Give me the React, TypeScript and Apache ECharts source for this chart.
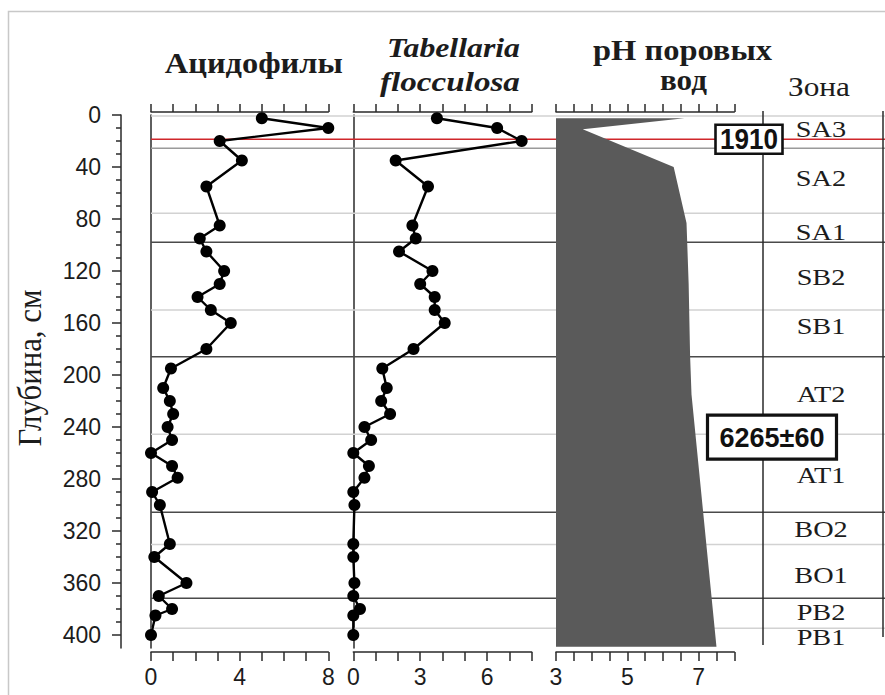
import React, { useEffect, useRef } from 'react';
import * as echarts from 'echarts';

// ---------- data ----------
const depths = [2.5, 10, 20, 35, 55, 85, 95, 105, 120, 130, 140, 150, 160, 180, 195, 210, 220, 230, 240, 250, 260, 270, 279, 290, 300, 330, 340, 360, 370, 380, 385, 400];
const acidophiles = [5.0, 8.0, 3.1, 4.1, 2.5, 3.1, 2.2, 2.5, 3.3, 3.1, 2.1, 2.7, 3.6, 2.5, 0.9, 0.55, 0.85, 1.0, 0.75, 0.95, 0, 0.95, 1.2, 0.05, 0.4, 0.85, 0.15, 1.6, 0.35, 0.95, 0.2, 0];
const tabellaria = [3.75, 6.45, 7.55, 1.9, 3.35, 2.65, 2.8, 2.05, 3.55, 3.0, 3.65, 3.65, 4.1, 2.7, 1.3, 1.5, 1.25, 1.65, 0.5, 0.8, 0, 0.7, 0.5, 0, 0.05, 0, 0, 0.05, 0, 0.3, 0, 0];

const phDepths = [2.5, 11, 40, 83, 130, 185, 215, 409];
const phValues = [6.6, 3.75, 6.3, 6.66, 6.72, 6.76, 6.8, 7.5];

const zoneNames = ['SA3', 'SA2', 'SA1', 'SB2', 'SB1', 'AT2', 'AT1', 'BO2', 'BO1', 'PB2', 'PB1'];
const zoneLabelDepths = [10.8, 48.5, 90, 124.6, 163, 215, 277, 319, 354, 383, 402];

const boundaryDepths = [0.7, 25.6, 75.6, 97.9, 150, 186, 245.6, 305.6, 330.3, 371.8, 394.9];
const boundaryRanks = ['sub', 'mid', 'sub', 'period', 'sub', 'period', 'sub', 'period', 'sub', 'period', 'sub'];
const horizonDepths = [18.7];

const dateLabels = ['1910', '6265±60'];
const dateDepths = [18.7, 247.8];

const depthTicks = [0, 40, 80, 120, 160, 200, 240, 280, 320, 360, 400];
const acidTickLabels = [0, 4, 8];
const tabTickLabels = [0, 3, 6];
const phTickLabels = [3, 5, 7];

const titles = {
  acid: 'Ацидофилы',
  tab1: 'Tabellaria',
  tab2: 'flocculosa',
  ph1: 'pH поровых',
  ph2: 'вод',
  zone: 'Зона',
  depth: 'Глубина, см',
};

// ---------- styling / layout ----------
const SERIF = '"Liberation Serif", "Times New Roman", serif';
const SANS = 'Liberation Sans';
const INK = '#1c1c1c';
const AXIS = '#2a2a2a';
const LINE_COLORS: Record<string, string> = {
  sub: '#d2d2d2',
  mid: '#9a9a9a',
  period: '#4a4a4a',
  horizon: '#d0262b',
};
const DEPTH_MAX = 410;
const GRID_TOP = 115;
const GRID_H = 533;
const LABEL_SIZE = 23;

function textWidth(text: string, font: string): number {
  const ctx = document.createElement('canvas').getContext('2d');
  if (!ctx) return text.length * 12;
  ctx.font = font;
  return ctx.measureText(text).width || text.length * 12;
}

function fitText(text: string, cx: number, cy: number, font: string, targetW: number, extra: any = {}) {
  const w = textWidth(text, font);
  return {
    type: 'text',
    x: cx,
    y: cy,
    scaleX: targetW / w,
    z: 6,
    silent: true,
    ...extra,
    style: {
      text,
      font,
      fill: INK,
      align: 'center',
      verticalAlign: 'middle',
      textAlign: 'center',
      textVerticalAlign: 'middle',
    },
  };
}

function rulerAxis(gridIndex: number, position: 'top' | 'bottom', min: number, max: number, interval: number, labels: number[] | null) {
  return {
    type: 'value',
    gridIndex,
    position,
    min,
    max,
    interval,
    offset: position === 'top' ? 3 : 4,
    axisLine: { show: true, onZero: false, lineStyle: { color: AXIS, width: 1.5 } },
    axisTick: { show: true, inside: false, length: position === 'top' ? 8 : 9, lineStyle: { color: AXIS, width: 1.5 } },
    axisLabel: {
      show: !!labels,
      formatter: (v: number) => (labels && labels.indexOf(v) >= 0 ? String(v) : ''),
      fontFamily: SANS,
      fontSize: LABEL_SIZE,
      color: INK,
      margin: 13,
      showMinLabel: true,
      showMaxLabel: true,
      hideOverlap: false,
    },
    splitLine: { show: false },
  };
}

function plainYAxis(gridIndex: number, showLine: boolean) {
  return {
    type: 'value',
    gridIndex,
    inverse: true,
    min: 0,
    max: DEPTH_MAX,
    axisLine: { show: showLine, onZero: false, lineStyle: { color: AXIS, width: 1.5 } },
    axisTick: { show: false },
    axisLabel: { show: false },
    splitLine: { show: false },
  };
}

function hiddenXAxis(gridIndex: number, max: number) {
  return {
    type: 'value', gridIndex, min: 0, max, show: false,
    axisLine: { onZero: false }, splitLine: { show: false },
  };
}

function grid(left: number, width: number) {
  return { left, top: GRID_TOP, width, height: GRID_H, containLabel: false, outerBoundsMode: 'none', show: false };
}

function profileSeries(values: number[], xAxisIndex: number, yAxisIndex: number, name: string) {
  return {
    type: 'line',
    name,
    xAxisIndex,
    yAxisIndex,
    data: depths.map((d, i) => [values[i], d]),
    symbol: 'circle',
    symbolSize: 12,
    clip: false,
    z: 3,
    silent: true,
    lineStyle: { color: '#000', width: 2.4 },
    itemStyle: { color: '#000' },
  };
}

function hLineSeries(depthList: number[], rankOf: (i: number) => string, z: number) {
  return {
    type: 'custom',
    xAxisIndex: 6,
    yAxisIndex: 4,
    clip: false,
    silent: true,
    z,
    data: depthList.map((d) => [0, d]),
    renderItem: (params: any, api: any) => {
      const y = api.coord([0, api.value(1)])[1];
      const cs = params.coordSys;
      return {
        type: 'line',
        shape: { x1: cs.x, y1: y, x2: cs.x + cs.width, y2: y },
        style: { stroke: LINE_COLORS[rankOf(params.dataIndex)], lineWidth: 1.5 },
      };
    },
  };
}

// box layout for the dated horizons (pixel offsets from the overlay grid's left edge)
const dateBoxLayout = [
  { dx: 598, w: 67, h: 29, lw: 2.6, size: 30, textW: 58 },
  { dx: 621, w: 129, h: 44, lw: 3.2, size: 28, textW: 105 },
];

function buildOption() {
  return {
    animation: false,
    backgroundColor: '#ffffff',
    textStyle: { fontFamily: SANS, fontSize: LABEL_SIZE },
    grid: [
      grid(151, 177.3),
      grid(353.3, 178.4),
      grid(556, 178.3),
      grid(151, 734),
      grid(763, 120),
    ],
    xAxis: [
      rulerAxis(0, 'bottom', 0, 8, 1, acidTickLabels),
      rulerAxis(0, 'top', 0, 8, 1, null),
      rulerAxis(1, 'bottom', 0, 8, 1, tabTickLabels),
      rulerAxis(1, 'top', 0, 8, 1, null),
      rulerAxis(2, 'bottom', 3, 8, 0.5, phTickLabels),
      rulerAxis(2, 'top', 3, 8, 0.5, null),
      hiddenXAxis(3, 734),
      hiddenXAxis(4, 1),
    ],
    yAxis: [
      plainYAxis(0, true),
      {
        type: 'value',
        gridIndex: 0,
        position: 'left',
        offset: 30,
        inverse: true,
        min: 0,
        max: DEPTH_MAX,
        interval: 40,
        axisLine: { show: true, onZero: false, lineStyle: { color: AXIS, width: 1.5 } },
        axisTick: { show: true, inside: false, length: 9, customValues: depthTicks, lineStyle: { color: AXIS, width: 1.5 } },
        minorTick: { show: true, splitNumber: 4, length: 5, lineStyle: { color: AXIS, width: 1.5 } },
        axisLabel: {
          formatter: (v: number) => (depthTicks.indexOf(v) >= 0 ? String(v) : ''),
          fontFamily: SANS,
          fontSize: LABEL_SIZE,
          color: INK,
          margin: 20,
          showMaxLabel: true,
          showMinLabel: true,
        },
        splitLine: { show: false },
        minorSplitLine: { show: false },
      },
      plainYAxis(1, true),
      plainYAxis(2, false),
      plainYAxis(3, false),
      plainYAxis(4, false),
    ],
    series: [
      hLineSeries(boundaryDepths, (i) => boundaryRanks[i], 1),
      hLineSeries(horizonDepths, () => 'horizon', 1),
      profileSeries(acidophiles, 0, 0, 'Ацидофилы'),
      profileSeries(tabellaria, 2, 2, 'Tabellaria flocculosa'),
      {
        type: 'custom',
        name: 'pH',
        xAxisIndex: 4,
        yAxisIndex: 3,
        clip: false,
        silent: true,
        z: 4,
        data: phDepths.map((d, i) => [phValues[i], d]),
        renderItem: (params: any, api: any) => {
          if (params.dataIndex !== 0) return null;
          const base = 3;
          const pts: number[][] = [api.coord([base, phDepths[0]])];
          for (let i = 0; i < phDepths.length; i++) pts.push(api.coord([phValues[i], phDepths[i]]));
          pts.push(api.coord([base, phDepths[phDepths.length - 1]]));
          return { type: 'polygon', shape: { points: pts }, style: { fill: '#5a5a5a', stroke: 'none' } };
        },
      },
      {
        type: 'custom',
        name: 'zones',
        xAxisIndex: 7,
        yAxisIndex: 5,
        clip: false,
        silent: true,
        z: 5,
        data: zoneLabelDepths.map((d) => [0.5, d]),
        renderItem: (params: any, api: any) => {
          const c = api.coord([0.5, api.value(1)]);
          const font = `23px ${SERIF}`;
          const text = zoneNames[params.dataIndex];
          return {
            type: 'text',
            x: c[0] - 2,
            y: c[1],
            scaleX: 1.23,
            style: { text, font, fill: INK, align: 'center', verticalAlign: 'middle', textAlign: 'center', textVerticalAlign: 'middle' },
          };
        },
      },
      {
        type: 'custom',
        name: 'dates',
        xAxisIndex: 6,
        yAxisIndex: 4,
        clip: false,
        silent: true,
        z: 10,
        data: dateDepths.map((d) => [0, d]),
        renderItem: (params: any, api: any) => {
          const L = dateBoxLayout[params.dataIndex];
          const cs = params.coordSys;
          const cy = api.coord([0, api.value(1)])[1];
          const cx = cs.x + L.dx;
          const text = dateLabels[params.dataIndex];
          const font = `bold ${L.size}px "Liberation Sans", Arial, sans-serif`;
          const tw = textWidth(text, font);
          return {
            type: 'group',
            children: [
              {
                type: 'rect',
                shape: { x: cx - L.w / 2, y: cy - L.h / 2, width: L.w, height: L.h },
                style: { fill: '#ffffff', stroke: '#111111', lineWidth: L.lw },
              },
              {
                type: 'text',
                x: cx,
                y: cy,
                scaleX: L.textW / tw,
                style: { text, font, fill: '#111111', align: 'center', verticalAlign: 'middle', textAlign: 'center', textVerticalAlign: 'middle' },
              },
            ],
          };
        },
      },
    ],
    graphic: [
      {
        type: 'rect', z: 0, silent: true,
        shape: { x: 8.5, y: 11.5, width: 900, height: 720 },
        style: { fill: 'none', stroke: '#c8c8c8', lineWidth: 1.5 },
      },
      {
        type: 'line', z: 2, silent: true,
        shape: { x1: 763, y1: 111, x2: 763, y2: 645 },
        style: { stroke: AXIS, lineWidth: 1.5 },
      },
      {
        type: 'line', z: 2, silent: true,
        shape: { x1: 883, y1: 111, x2: 883, y2: 637 },
        style: { stroke: AXIS, lineWidth: 1.5 },
      },
      fitText(titles.acid, 253.8, 63.1, `bold 30px ${SERIF}`, 178),
      fitText(titles.tab1, 453.5, 47.2, `italic bold 28px ${SERIF}`, 133),
      fitText(titles.tab2, 450, 81.5, `italic bold 28px ${SERIF}`, 140),
      fitText(titles.ph1, 682.5, 50.1, `bold 29px ${SERIF}`, 179),
      fitText(titles.ph2, 683.5, 80.1, `bold 29px ${SERIF}`, 47),
      fitText(titles.zone, 819, 86.8, `27px ${SERIF}`, 62),
      fitText(titles.depth, 30, 368, `29px ${SERIF}`, 157, { rotation: Math.PI / 2, scaleY: 1.15 }),
    ],
  };
}

export default function App() {
  const ref = useRef<HTMLDivElement>(null);
  useEffect(() => {
    if (!ref.current) return;
    const chart = echarts.init(ref.current, undefined, { renderer: 'svg' });
    chart.setOption(buildOption() as any);
    return () => chart.dispose();
  }, []);
  return (
    <div
      ref={ref}
      style={{ position: 'fixed', left: 0, top: 0, width: 885, height: 695, background: '#ffffff' }}
    />
  );
}
